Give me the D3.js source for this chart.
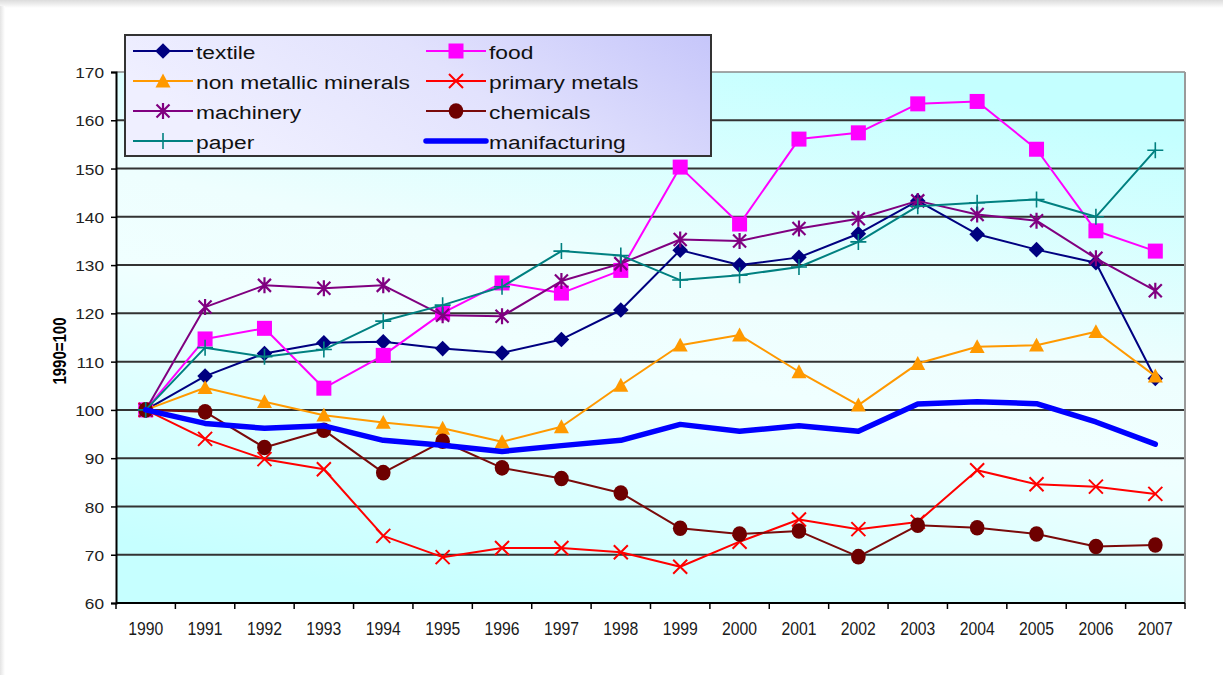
<!DOCTYPE html>
<html>
<head>
<meta charset="utf-8">
<script src="https://cdn.jsdelivr.net/npm/d3@7"></script>
<style>
  html, body { margin: 0; padding: 0; background: #ffffff; }
  svg { display: block; }
  text { font-family: "Liberation Sans", Arial, sans-serif; fill: #000; }
</style>
</head>
<body>
<svg id="chart" width="1223" height="675"></svg>
<script>
// Industrial production indices by sector, 1990 = 100
const years = ["1990","1991","1992","1993","1994","1995","1996","1997","1998","1999",
               "2000","2001","2002","2003","2004","2005","2006","2007"];
const yTicks = [60, 70, 80, 90, 100, 110, 120, 130, 140, 150, 160, 170];
const yTitle = "1990=100";

const textile       = [100,107,111.7,113.9,114.1,112.7,111.8,114.6,120.7,133.1,130,131.6,136.5,143.3,136.4,133.2,130.5,106.5];
const food          = [100,114.7,116.9,104.5,111.3,120.1,126.3,124.2,128.9,150.3,138.5,156.1,157.4,163.4,163.9,154,137.1,132.9];
const nonMetallic   = [100,104.6,101.7,98.9,97.4,96.2,93.4,96.5,105.1,113.4,115.5,107.9,101,109.6,113.1,113.4,116.2,107];
const primaryMetals = [100,94,89.8,87.7,73.9,69.5,71.4,71.4,70.5,67.5,72.7,77.3,75.3,76.8,87.5,84.6,84.1,82.6];
const machinery     = [100,121.3,125.8,125.2,125.8,119.6,119.4,126.7,130.3,135.3,135,137.6,139.6,143.3,140.5,139.2,131.4,124.7];
const chemicals     = [100,99.6,92.2,95.8,87,93.5,88,85.8,82.8,75.5,74.3,74.9,69.6,76.1,75.6,74.3,71.7,72];
const paper         = [100,112.9,111,112.5,118.4,121.7,125.5,132.9,132,126.9,127.9,129.6,134.8,142.2,142.9,143.6,140,153.8];
const manufacturing = [100,97.2,96.2,96.7,93.7,92.7,91.4,92.6,93.7,97,95.6,96.7,95.6,101.2,101.7,101.3,97.5,92.9];

const seriesNames = ["textile","food","non metallic minerals","primary metals",
                     "machinery","chemicals","paper","manifacturing"];
const seriesValues = [textile, food, nonMetallic, primaryMetals, machinery, chemicals, paper, manufacturing];

// styling per series: colour, line width, marker kind
const styles = [
  { color: "#000080", width: 2,   marker: "diamond" },
  { color: "#ff00ff", width: 2,   marker: "square" },
  { color: "#ff9900", width: 2,   marker: "triangle" },
  { color: "#ff0000", width: 2,   marker: "x" },
  { color: "#800080", width: 2,   marker: "star" },
  { color: "#7a0a0a", width: 2,   marker: "circle", fill: "#6e0000" },
  { color: "#008080", width: 2,   marker: "plus" },
  { color: "#0000ff", width: 5.5, marker: "none" }
];

const svg = d3.select("#chart");
const defs = svg.append("defs");

// page edge shading
const edge = defs.append("linearGradient").attr("id", "edgeTop").attr("x1", 0).attr("y1", 0).attr("x2", 0).attr("y2", 1);
edge.append("stop").attr("offset", 0).attr("stop-color", "#dcdcdc");
edge.append("stop").attr("offset", 1).attr("stop-color", "#ffffff");
const edgeL = defs.append("linearGradient").attr("id", "edgeLeft").attr("x1", 0).attr("y1", 0).attr("x2", 1).attr("y2", 0);
edgeL.append("stop").attr("offset", 0).attr("stop-color", "#e4e4e4");
edgeL.append("stop").attr("offset", 1).attr("stop-color", "#ffffff");
svg.append("rect").attr("x", 0).attr("y", 0).attr("width", 1223).attr("height", 8).attr("fill", "url(#edgeTop)");
svg.append("rect").attr("x", 0).attr("y", 6).attr("width", 5).attr("height", 669).attr("fill", "url(#edgeLeft)");

// plot area bounds
const plotL = 116, plotR = 1185, plotT = 72, plotB = 603;

const x = d3.scaleBand().domain(years).range([plotL, plotR]).paddingInner(0).paddingOuter(0);
const y = d3.scaleLinear().domain([60, 170]).range([plotB, plotT]);

const bg = defs.append("linearGradient").attr("id", "plotBg")
  .attr("x1", 0.3).attr("y1", 1).attr("x2", 0.7).attr("y2", 0);
bg.append("stop").attr("offset", 0).attr("stop-color", "#c6ffff");
bg.append("stop").attr("offset", 0.45).attr("stop-color", "#f0ffff");
bg.append("stop").attr("offset", 0.6).attr("stop-color", "#eefefe");
bg.append("stop").attr("offset", 1).attr("stop-color", "#c4ffff");

svg.append("rect")
  .attr("x", plotL).attr("y", plotT)
  .attr("width", plotR - plotL).attr("height", plotB - plotT)
  .attr("fill", "url(#plotBg)");

// horizontal gridlines
svg.append("g")
  .selectAll("line")
  .data(yTicks.filter(v => v > 60 && v < 170))
  .join("line")
  .attr("x1", plotL).attr("x2", plotR)
  .attr("y1", d => y(d)).attr("y2", d => y(d))
  .attr("stroke", "#333333").attr("stroke-width", 2);

// top and right frame
svg.append("line").attr("x1", plotL).attr("x2", plotR).attr("y1", y(170)).attr("y2", y(170))
  .attr("stroke", "#8a8a8a").attr("stroke-width", 1.5);
svg.append("line").attr("x1", plotR).attr("x2", plotR).attr("y1", plotT).attr("y2", plotB)
  .attr("stroke", "#9a9a9a").attr("stroke-width", 2);

// y axis
const yAxis = svg.append("g").attr("transform", `translate(${plotL},0)`)
  .call(d3.axisLeft(y).tickValues(yTicks).tickSize(5).tickPadding(0).tickFormat(d3.format("d")));
yAxis.select(".domain").attr("stroke", "#000").attr("stroke-width", 2);
yAxis.selectAll(".tick line").attr("stroke", "#000").attr("stroke-width", 1.5);
yAxis.selectAll(".tick text")
  .attr("x", null).attr("dy", null)
  .attr("font-size", 15)
  .attr("text-anchor", "end")
  .attr("dominant-baseline", "central")
  .attr("transform", "translate(-12,0) scale(1.15,1)")
  .style("fill", "#222");

// x axis: ticks on category boundaries
const xAxis = svg.append("g").attr("transform", `translate(0,${plotB})`);
xAxis.append("line").attr("x1", plotL).attr("x2", plotR).attr("y1", 0).attr("y2", 0)
  .attr("stroke", "#000").attr("stroke-width", 2);
const bounds = years.map(yr => x(yr)).concat([x(years[years.length - 1]) + x.bandwidth()]);
xAxis.selectAll("line.tk").data(bounds).join("line").attr("class", "tk")
  .attr("x1", d => d).attr("x2", d => d).attr("y1", 0).attr("y2", 6)
  .attr("stroke", "#000").attr("stroke-width", 1.5);
xAxis.selectAll("text").data(years).join("text")
  .attr("transform", d => `translate(${x(d) + x.bandwidth() / 2},32) scale(0.9,1)`)
  .attr("text-anchor", "middle")
  .attr("font-size", 17.5)
  .style("fill", "#1a1a1a")
  .text(d => d);

// y title
svg.append("text")
  .attr("transform", "translate(66,351) rotate(-90) scale(1,1.2)")
  .attr("text-anchor", "middle")
  .attr("font-size", 15)
  .attr("font-weight", "bold")
  .text(yTitle);

// marker drawing
function drawMarker(g, kind, st, size) {
  const s = size || 1;
  if (kind === "diamond") {
    const h = 7.8 * s;
    g.append("path").attr("d", `M0,${-h}L${h},0L0,${h}L${-h},0Z`).attr("fill", st.color);
  } else if (kind === "square") {
    const h = 7.5 * s;
    g.append("rect").attr("x", -h).attr("y", -h).attr("width", 2 * h).attr("height", 2 * h).attr("fill", st.color);
  } else if (kind === "triangle") {
    const h = 7.5 * s;
    g.append("path").attr("d", `M0,${-h}L${h},${h * 0.85}L${-h},${h * 0.85}Z`).attr("fill", st.color);
  } else if (kind === "x") {
    const h = 7 * s;
    g.append("path").attr("d", `M${-h},${-h}L${h},${h}M${-h},${h}L${h},${-h}`)
      .attr("stroke", st.color).attr("stroke-width", 2).attr("fill", "none");
  } else if (kind === "star") {
    const h = 6.5 * s, v = 8 * s;
    g.append("path").attr("d", `M${-h},${-h}L${h},${h}M${-h},${h}L${h},${-h}M0,${-v}L0,${v}`)
      .attr("stroke", st.color).attr("stroke-width", 2.2).attr("fill", "none");
  } else if (kind === "circle") {
    g.append("ellipse").attr("rx", 7.3 * s).attr("ry", 7.8 * s).attr("fill", st.fill || st.color);
  } else if (kind === "plus") {
    const h = 8 * s;
    g.append("path").attr("d", `M${-h},0L${h},0M0,${-h}L0,${h}`)
      .attr("stroke", st.color).attr("stroke-width", 1.6).attr("fill", "none");
  }
}

// series
const line = d3.line()
  .x((d, i) => x(years[i]) + x.bandwidth() / 2)
  .y(d => y(d));

seriesValues.forEach((vals, si) => {
  const st = styles[si];
  const g = svg.append("g").attr("class", "series");
  g.append("path")
    .attr("d", line(vals))
    .attr("fill", "none")
    .attr("stroke", st.color)
    .attr("stroke-width", st.width)
    .attr("stroke-linejoin", "round")
    .attr("stroke-linecap", "round");
  if (st.marker !== "none") {
    vals.forEach((v, i) => {
      const mg = g.append("g").attr("transform", `translate(${x(years[i]) + x.bandwidth() / 2},${y(v)})`);
      drawMarker(mg, st.marker, st);
    });
  }
});

// legend
const lgBg = defs.append("linearGradient").attr("id", "legendBg")
  .attr("x1", 0).attr("y1", 0.3).attr("x2", 1).attr("y2", 0);
lgBg.append("stop").attr("offset", 0).attr("stop-color", "#efefff");
lgBg.append("stop").attr("offset", 0.5).attr("stop-color", "#e2e2fd");
lgBg.append("stop").attr("offset", 1).attr("stop-color", "#c6c6fa");

const legend = svg.append("g");
legend.append("rect")
  .attr("x", 125).attr("y", 35).attr("width", 586).attr("height", 121)
  .attr("fill", "url(#legendBg)")
  .attr("stroke", "#333").attr("stroke-width", 2);

const colX = [133, 426];
seriesNames.forEach((name, i) => {
  const col = i % 2, row = Math.floor(i / 2);
  const st = styles[i];
  const lx = colX[col], ly = 51 + row * 30;
  const g = legend.append("g").attr("transform", `translate(${lx},${ly})`);
  g.append("line").attr("x1", 0).attr("x2", 60).attr("y1", 0).attr("y2", 0)
    .attr("stroke", st.color).attr("stroke-width", st.width)
    .attr("stroke-linecap", st.marker === "none" ? "round" : "butt");
  if (st.marker !== "none") {
    const mg = g.append("g").attr("transform", "translate(30,0)");
    drawMarker(mg, st.marker, st);
  }
  g.append("text")
    .attr("transform", "translate(63,1) scale(1.2,1)")
    .attr("dominant-baseline", "central")
    .attr("font-size", 19)
    .style("fill", "#111")
    .text(name);
});
</script>
</body>
</html>
